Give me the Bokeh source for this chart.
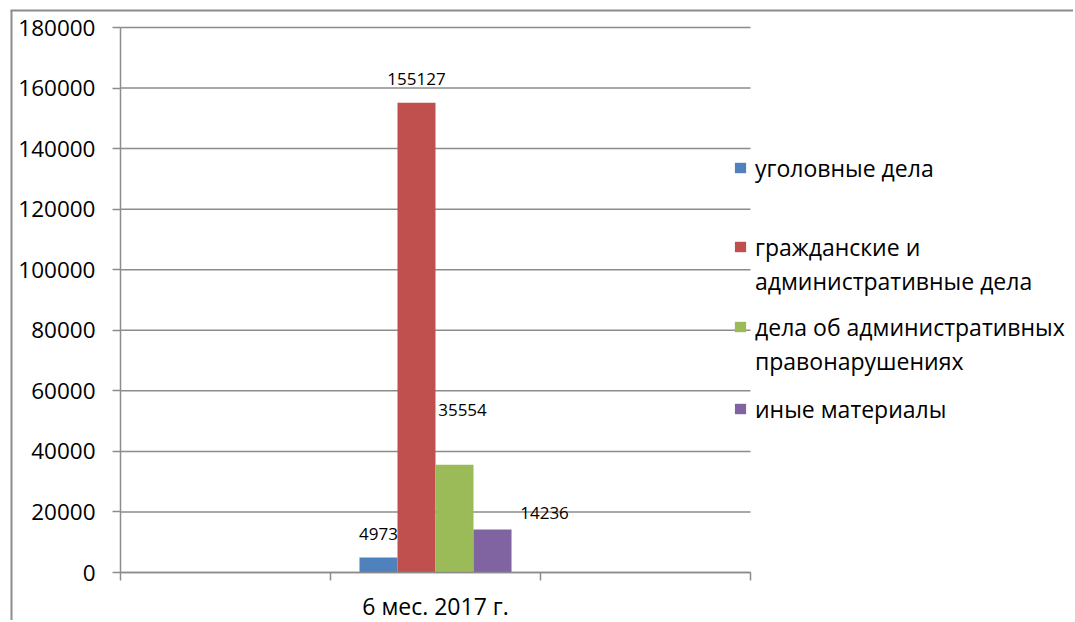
from bokeh.plotting import figure
from bokeh.models import ColumnDataSource, FixedTicker, Legend, LegendItem, Range1d
from bokeh.embed import file_html
from bokeh.resources import INLINE
from bokeh.core.properties import value

# ---- data ----
periods = ["", "6 мес. 2017 г.", ""]
series = [
    "уголовные дела",
    "гражданские и\nадминистративные дела",
    "дела об административных\nправонарушениях",
    "иные материалы",
]
values = [4973, 155127, 35554, 14236]
colors = ["#4F81BD", "#C0504D", "#9BBB59", "#8064A2"]
y_ticks = [0, 20000, 40000, 60000, 80000, 100000, 120000, 140000, 160000, 180000]

# ---- style / layout (pixels on the page) ----
FONT = "Open Sans"
GRID = "#8c8c8c"
W, H = 1073, 620              # canvas size
PLOT_L, PLOT_R = 120, 750     # category area, left/right
PLOT_T, PLOT_B = 27, 572      # value axis top / zero line
BORDER_X, BORDER_Y = 11, 10   # chart-area border lines
data_cat = 1                  # index of the category holding the bars
bar_w = 0.181                 # width of one bar in category units
label_dx = [0, 0, 8, 52]      # pixel nudges of the data labels
label_dy = [-23, -24, -55, -16]
legend_line_y = [[169], [248, 282], [328, 362], [410]]   # text-line centres
LEG_X = 733
LINE_H = 29

n = len(periods)
ymax = y_ticks[-1]
x_per_px = n / (PLOT_R - PLOT_L)
y_per_px = ymax / (PLOT_B - PLOT_T)
def px_x(px):
    return (px - PLOT_L) * x_per_px
def px_y(py):
    return (PLOT_B - py) * y_per_px

xs = [data_cat + 0.5 + (i - 1.5) * bar_w for i in range(len(values))]
src = ColumnDataSource(dict(x=xs, top=values, lbl=[str(v) for v in values],
                            dx=label_dx, dy=label_dy))

p = figure(width=W, height=H, output_backend="svg", toolbar_location=None,
           x_range=Range1d(px_x(0), px_x(W)), y_range=Range1d(px_y(H), px_y(0)),
           min_border=0)
p.outline_line_color = None
p.background_fill_color = "white"
p.border_fill_color = "white"

# chart-area border (left and top edges)
p.segment(x0=[px_x(BORDER_X), px_x(BORDER_X - 1)], y0=[px_y(H), px_y(BORDER_Y)],
          x1=[px_x(BORDER_X), px_x(W)], y1=[px_y(BORDER_Y), px_y(BORDER_Y)],
          line_color=GRID, line_width=2)

# horizontal gridlines limited to the category area
p.segment(x0=[0] * len(y_ticks), x1=[n] * len(y_ticks), y0=y_ticks, y1=y_ticks,
          line_color=GRID, line_width=1.5)

renderers = []
for i in range(len(values)):
    r = p.vbar(x=[xs[i]], top=[values[i]], bottom=0, width=bar_w,
               fill_color=colors[i], line_color=None)
    renderers.append(r)
# invisible renderer used for legend continuation lines
blank = p.vbar(x=[], top=[], width=bar_w, fill_alpha=0, line_alpha=0)

p.text(x="x", y="top", text="lbl", x_offset="dx", y_offset="dy", source=src,
       text_align="center", text_baseline="middle", text_font=value(FONT),
       text_font_size="17px", text_color="black")

# y axis, drawn inside the frame at x = 0
yax = p.yaxis[0]
yax.fixed_location = 0
yax.bounds = (0, ymax)
yax.ticker = FixedTicker(ticks=y_ticks)
yax.axis_line_color = GRID
yax.axis_line_width = 1.5
yax.major_tick_line_color = GRID
yax.major_tick_line_width = 1.5
yax.major_tick_out = 8
yax.major_tick_in = 0
yax.minor_tick_line_color = None
yax.major_label_standoff = 17
yax.major_label_text_font = FONT
yax.major_label_text_font_size = "22.5px"
yax.major_label_text_color = "black"
yax.formatter.use_scientific = False

# x axis, drawn inside the frame at y = 0
centers = [i + 0.5 for i in range(n)]
xax = p.xaxis[0]
xax.fixed_location = 0
xax.bounds = (0, n)
xax.ticker = FixedTicker(ticks=centers, minor_ticks=list(range(n + 1)))
xax.major_label_overrides = {c: name for c, name in zip(centers, periods)}
xax.axis_line_color = GRID
xax.axis_line_width = 1.5
xax.major_tick_line_color = None
xax.major_tick_out = 0
xax.major_tick_in = 0
xax.minor_tick_line_color = GRID
xax.minor_tick_line_width = 1.5
xax.minor_tick_out = 8
xax.minor_tick_in = 0
xax.major_label_standoff = 9
xax.major_label_text_font = FONT
xax.major_label_text_font_size = "23px"
xax.major_label_text_color = "black"

p.xgrid.grid_line_color = None
p.ygrid.grid_line_color = None

# legend: one small legend per text line; coloured glyph only on a series' first line
for i in range(len(values)):
    for j, line in enumerate(series[i].split("\n")):
        cy = legend_line_y[i][j]
        lg = Legend(items=[LegendItem(label=line, renderers=[renderers[i] if j == 0 else blank])],
                    location=(LEG_X, H - cy - LINE_H / 2),
                    padding=0, margin=0, spacing=0,
                    glyph_width=14, glyph_height=13, label_standoff=8,
                    label_text_font=FONT, label_text_font_size="23px",
                    label_text_color="black",
                    background_fill_alpha=0, border_line_color=None)
        p.add_layout(lg)

open("out.html", "w").write(file_html(p, INLINE))
